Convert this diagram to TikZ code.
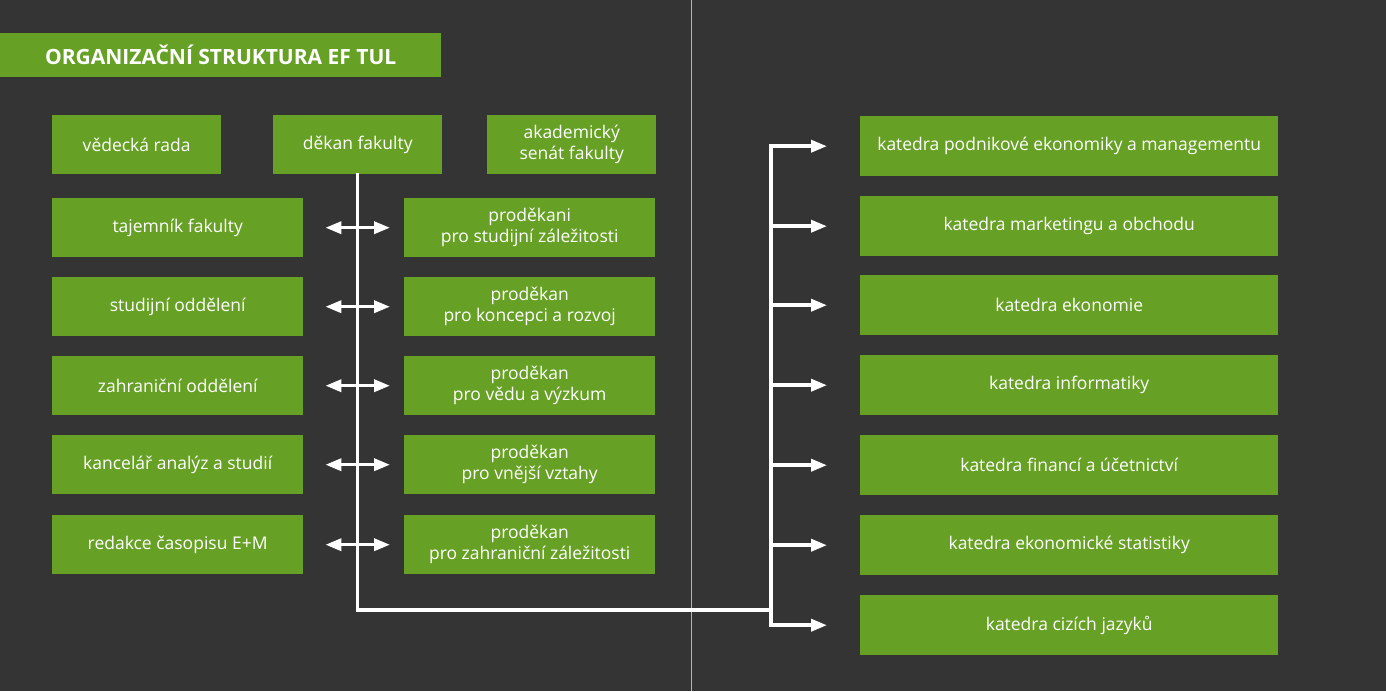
\documentclass[tikz,border=0pt]{standalone}
\usepackage{fontspec}
\setmainfont{Open Sans}
\usetikzlibrary{arrows.meta,calc}
\definecolor{ink}     {HTML}{343434}
\definecolor{efgreen} {HTML}{66A125}
\definecolor{divider} {HTML}{B4B4B4}
\tikzset{
  every node/.style={font=\fontsize{17.5}{21}\selectfont},
  % --- nodes
  box/.style    = {fill=efgreen, text=white, align=center, inner sep=0pt,
                   anchor=north west, minimum height=59pt},
  topbox/.style = {box, minimum width=169pt},
  rowbox/.style = {box, minimum width=251pt},
  dept/.style   = {box, minimum width=418pt, minimum height=60pt},
  titlebar/.style = {box, minimum width=441pt, minimum height=44pt,
                   font=\fontsize{21}{24}\selectfont\bfseries},
  % --- edges
  trunk/.style  = {draw=white, line width=3.5pt, line cap=rect, line join=miter},
  tip/.style    = {trunk, -{Triangle[length=16pt,width=12pt]}},
  twin/.style   = {trunk, line cap=butt,
                   {Triangle[length=16pt,width=12pt]}-{Triangle[length=16pt,width=12pt]}},
}
\begin{document}
\begin{tikzpicture}[x=1pt,y=-1pt]
  \useasboundingbox (0,0) rectangle (1386,691);
  \fill[ink] (0,0) rectangle (1386,691);
  \draw[divider, line width=1pt] (691,0) -- (691,691);

  \node[titlebar] (title) at (0,33) {ORGANIZAČNÍ STRUKTURA EF TUL};

  % --- vedeni
  \node[topbox] (rada)  at (52,115)  {vědecká rada};
  \node[topbox] (dekan) at (273,115) {děkan fakulty};
  \node[topbox] (senat) at (487,115) {akademický\\senát fakulty};

  % --- left rows
  \node[rowbox] (t1) at (52,198) {tajemník fakulty};
  \node[rowbox] (t2) at (52,277) {studijní oddělení};
  \node[rowbox] (t3) at (52,356) {zahraniční oddělení};
  \node[rowbox] (t4) at (52,435) {kancelář analýz a studií};
  \node[rowbox] (t5) at (52,515) {redakce časopisu E+M};

  \node[rowbox] (p1) at (404,198) {proděkani\\pro studijní záležitosti};
  \node[rowbox] (p2) at (404,277) {proděkan\\pro koncepci a rozvoj};
  \node[rowbox] (p3) at (404,356) {proděkan\\pro vědu a výzkum};
  \node[rowbox] (p4) at (404,435) {proděkan\\pro vnější vztahy};
  \node[rowbox] (p5) at (404,515) {proděkan\\pro zahraniční záležitosti};

  % --- katedry
  \node[dept] (k1) at (860,116) {katedra podnikové ekonomiky a managementu};
  \node[dept] (k2) at (860,196) {katedra marketingu a obchodu};
  \node[dept] (k3) at (860,275) {katedra ekonomie};
  \node[dept] (k4) at (860,355) {katedra informatiky};
  \node[dept] (k5) at (860,435) {katedra financí a účetnictví};
  \node[dept] (k6) at (860,515) {katedra ekonomické statistiky};
  \node[dept] (k7) at (860,595) {katedra cizích jazyků};

  % --- connectors
  \coordinate (spine) at (771,610);
  \draw[trunk] (dekan.south) |- (spine);
  \draw[trunk] (k1.west -| spine) -- (k7.west -| spine);
  \foreach \k in {k1,k2,k3,k4,k5,k6,k7}
    \draw[tip] (\k.west -| spine) -- ([xshift=-33pt]\k.west);
  \foreach \i in {1,...,5}
    \draw[twin] ([xshift=22pt]t\i.east) -- ([xshift=-14pt]p\i.west);
\end{tikzpicture}
\end{document}
